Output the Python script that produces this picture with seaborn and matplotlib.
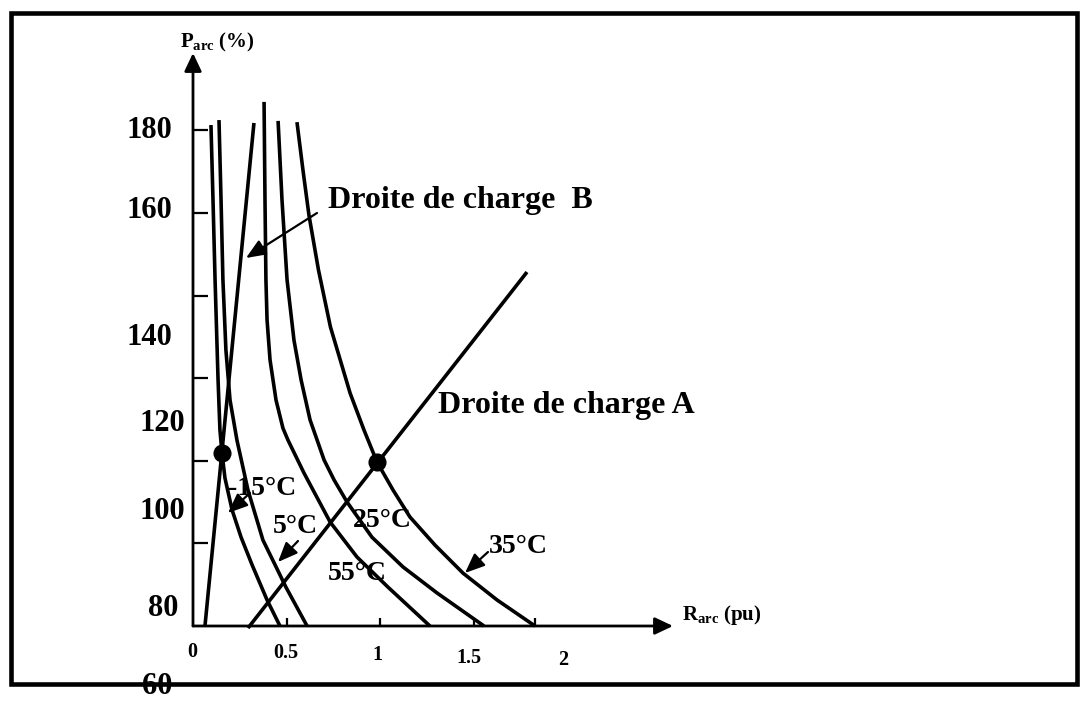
import numpy as np
import pandas as pd
import matplotlib
matplotlib.use("Agg")
import matplotlib.pyplot as plt
from matplotlib import transforms
from matplotlib.patches import Rectangle
import seaborn as sns

# ---- arc power P_arc (%) against arc resistance R_arc (pu), one curve per temperature ----
r_m15 = [0.096, 0.107, 0.118, 0.134, 0.144, 0.155, 0.171, 0.209, 0.257, 0.316, 0.396, 0.465]
p_m15 = [181.3, 163.1, 143.8, 119.6, 107.5, 101.9, 95.8, 88.1, 81.5, 74.8, 66.3, 60.0]

r_5 = [0.139, 0.150, 0.160, 0.176, 0.198, 0.235, 0.294, 0.374, 0.439, 0.497, 0.610]
p_5 = [182.5, 163.1, 143.8, 126.8, 114.7, 105.0, 92.9, 80.8, 74.8, 69.4, 60.0]

r_55 = [0.380, 0.385, 0.390, 0.396, 0.412, 0.444, 0.481, 0.508, 0.594, 0.733, 0.877, 1.043, 1.267]
p_55 = [186.9, 163.1, 143.8, 134.1, 124.4, 114.7, 107.9, 105.0, 97.0, 85.2, 76.7, 69.4, 60.0]

r_25 = [0.455, 0.476, 0.503, 0.540, 0.578, 0.626, 0.701, 0.754, 0.824, 0.957, 1.123, 1.305, 1.556]
p_25 = [182.3, 163.1, 143.8, 129.2, 119.6, 109.9, 100.2, 95.4, 90.0, 81.5, 74.3, 68.0, 60.0]

r_35 = [0.556, 0.588, 0.620, 0.671, 0.735, 0.840, 0.914, 0.984, 1.070, 1.160, 1.294, 1.444, 1.626, 1.829]
p_35 = [182.0, 170.4, 159.5, 146.2, 132.4, 116.4, 107.5, 99.7, 92.9, 86.4, 79.6, 72.8, 66.3, 60.0]

# load lines ("droites de charge")
line_a_r = [0.294, 1.786]
line_a_p = [59.5, 145.7]
line_b_r = [0.064, 0.326]
line_b_p = [60.0, 181.8]

# operating points (intersections)
op_r = [0.155, 0.984]
op_p = [101.9, 99.7]

# axis ticks and labels
y_tick_vals = [80, 100, 120, 140, 160, 180]
x_tick_vals = [0.5, 1.0, 1.5, 1.83]
y_tick_labels = ["180", "160", "140", "120", "100", "80", "60"]
x_tick_labels = ["0", "0.5", "1", "1.5", "2"]
temp_labels = ["-15°C", "5°C", "55°C", "25°C", "35°C"]

# ---- layout (figure pixels, origin top-left) ----
W_PX, H_PX = 1082, 701
X0_PX, PX_PER_PU = 193.0, 187.0      # R = 0 column, pixels per pu
Y0_PX, PX_PER_PCT = 626.0, 4.13      # P = 60 row, pixels per %
P_BASE = 60.0

y_label_pos = [(172, 138), (172, 218), (172, 345), (185, 431), (185, 519), (178, 616), (172, 694)]
x_label_pos = [(192, 657), (286, 658), (377, 660), (469, 663), (563, 665)]
temp_label_pos = [(228, 495), (273, 533), (328, 580), (353, 527), (489, 553)]
temp_arrows = [((250, 493), (228, 513)), ((298, 541), (278, 562)), None, None,
               ((488, 552), (465, 573))]

sns.set_theme(style="white")
plt.rcParams["font.family"] = ["Liberation Serif", "DejaVu Serif"]
plt.rcParams["font.weight"] = "bold"
plt.rcParams["text.color"] = "black"
plt.rcParams["mathtext.fontset"] = "custom"
plt.rcParams["mathtext.rm"] = "Liberation Serif"
plt.rcParams["mathtext.bf"] = "Liberation Serif:bold"

fig = plt.figure(figsize=(W_PX / 100, H_PX / 100), dpi=100)
fig.patch.set_facecolor("white")
ax = fig.add_axes([0, 0, 1, 1])
ax.set_xlim(-X0_PX / PX_PER_PU, (W_PX - X0_PX) / PX_PER_PU)
ax.set_ylim(P_BASE - (H_PX - Y0_PX) / PX_PER_PCT, P_BASE + Y0_PX / PX_PER_PCT)

# pixel coordinates measured from the top-left corner
px = transforms.Affine2D().scale(1, -1).translate(0, H_PX)

curves = pd.concat([
    pd.DataFrame({"R": r, "P": p, "temp": t})
    for r, p, t in zip([r_m15, r_5, r_55, r_25, r_35],
                       [p_m15, p_5, p_55, p_25, p_35], temp_labels)
], ignore_index=True)
loads = pd.concat([
    pd.DataFrame({"R": line_a_r, "P": line_a_p, "line": "A"}),
    pd.DataFrame({"R": line_b_r, "P": line_b_p, "line": "B"}),
], ignore_index=True)
points = pd.DataFrame({"R": op_r, "P": op_p})

sns.lineplot(data=curves, x="R", y="P", hue="temp", estimator=None, sort=False,
             palette={t: "black" for t in temp_labels}, legend=False,
             lw=2.6, solid_capstyle="butt", solid_joinstyle="round", ax=ax)
sns.lineplot(data=loads, x="R", y="P", hue="line", estimator=None, sort=False,
             palette={"A": "black", "B": "black"}, legend=False,
             lw=2.6, solid_capstyle="butt", ax=ax)
sns.scatterplot(data=points, x="R", y="P", color="black", s=170,
                edgecolor="black", linewidth=0, zorder=5, ax=ax)
ax.set_axis_off()

# axes with arrow heads
axis_style = dict(arrowstyle="-|>,head_length=0.55,head_width=0.26",
                  mutation_scale=20, lw=2.0, color="black", shrinkA=0, shrinkB=0)
x_end = (673 - X0_PX) / PX_PER_PU
y_end = P_BASE + (Y0_PX - 53) / PX_PER_PCT
ax.annotate("", xy=(x_end, P_BASE), xytext=(0, P_BASE), arrowprops=axis_style)
ax.annotate("", xy=(0, y_end), xytext=(0, P_BASE), arrowprops=axis_style)

# tick marks
tick_len_x = 15 / PX_PER_PU
for v in y_tick_vals:
    ax.plot([0, tick_len_x], [v, v], color="black", lw=1.6, solid_capstyle="butt")
tick_len_y = 8 / PX_PER_PCT
for v in x_tick_vals:
    ax.plot([v, v], [P_BASE, P_BASE + tick_len_y], color="black", lw=1.6,
            solid_capstyle="butt")

# tick labels
for lab, (x, y) in zip(y_tick_labels, y_label_pos):
    ax.text(x, y, lab, transform=px, ha="right", va="baseline",
            fontsize=22, fontweight="bold", color="black")
for lab, (x, y) in zip(x_tick_labels, x_label_pos):
    ax.text(x, y, lab, transform=px, ha="center", va="baseline",
            fontsize=14.5, fontweight="bold", color="black")

# axis titles
ax.text(180, 47, r"$\mathbf{P_{arc}}$ (%)", transform=px, ha="left", va="baseline",
        fontsize=15, fontweight="bold", color="black")
ax.text(682, 620, r"$\mathbf{R_{arc}}$ (pu)", transform=px, ha="left", va="baseline",
        fontsize=15, fontweight="bold", color="black")

# temperature labels with pointer arrows
note_style = dict(arrowstyle="-|>,head_length=0.6,head_width=0.25",
                  mutation_scale=20, lw=1.6, color="black", shrinkA=0, shrinkB=0)
for lab, (x, y), arr in zip(temp_labels, temp_label_pos, temp_arrows):
    ax.text(x, y, lab, transform=px, ha="left", va="baseline",
            fontsize=20, fontweight="bold", color="black")
    if arr is not None:
        ax.annotate("", xy=arr[1], xycoords=px, xytext=arr[0], textcoords=px,
                    arrowprops=note_style)

# load line labels
ax.text(328, 208, "Droite de charge  B", transform=px, ha="left", va="baseline",
        fontsize=23, fontweight="bold", color="black")
ax.annotate("", xy=(246, 258), xycoords=px, xytext=(317, 213), textcoords=px,
            arrowprops=note_style)
ax.text(438, 413, "Droite de charge A", transform=px, ha="left", va="baseline",
        fontsize=23, fontweight="bold", color="black")

# outer frame
ax.add_patch(Rectangle((10.5, 13), 1066, 670.5, transform=px, fill=False,
                       lw=3.3, edgecolor="black", clip_on=False, zorder=10))

fig.savefig("out.png", dpi=100, facecolor="white")
